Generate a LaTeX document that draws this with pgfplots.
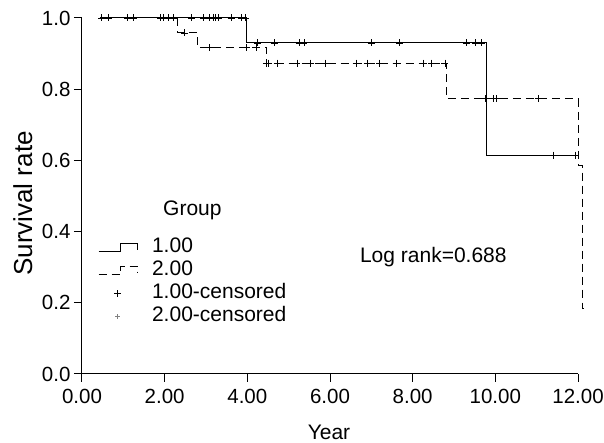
\documentclass[border=0pt]{standalone}
\usepackage{fontspec}
\setmainfont{Liberation Sans}
\usepackage{pgfplots}
\pgfplotsset{compat=1.18}

\newcommand{\bigfont}{\fontsize{21}{25}\selectfont}
\newcommand{\tickfont}{\fontsize{20.5}{24}\selectfont}
\newcommand{\ylabfont}{\fontsize{26}{30}\selectfont}

\pgfplotsset{
    steplegend/.style={legend image code/.code={%
        \draw[##1] (0pt,-4pt) -- (22pt,-4pt) -- (22pt,4pt) -- (39pt,4pt) -- (39pt,-2pt);}},
    censlegend/.style={legend image code/.code={%
        \draw[##1] plot coordinates {(19pt,0pt)};}},
    censlegendsmall/.style={legend image code/.code={%
        \draw[##1, mark size=2.5pt, line width=0.5pt, gray] plot coordinates {(19pt,0pt)};}},
}

\begin{document}
\begin{tikzpicture}
\begin{axis}[
    scale only axis,
    width=496pt, height=356pt,
    xmin=0, xmax=12, ymin=0, ymax=1,
    axis x line*=bottom, axis y line*=left,
    axis line style={line width=1pt},
    clip=false,
    xtick={0,2,...,12}, ytick={0,0.2,...,1.0},
    tick align=outside,
    major tick length=8pt,
    tick style={line width=1pt, black},
    /pgf/number format/assume math mode=true,
    xticklabel style={yshift=-4pt, /pgf/number format/.cd, fixed, fixed zerofill, precision=2},
    yticklabel style={/pgf/number format/.cd, fixed, fixed zerofill, precision=1},
    ticklabel style={font=\tickfont},
    xlabel={Year}, ylabel={Survival rate},
    xlabel style={font=\bigfont, at={(axis description cs:0.498,-0.1854)}, anchor=base},
    ylabel style={font=\ylabfont, at={(axis description cs:-0.1008,0.479)}, anchor=base},
    legend style={at={(rel axis cs:0.032,0.383)}, anchor=north west,
        draw=none, fill=none, inner sep=0pt, row sep=3.5pt, column sep=14pt,
        font=\bigfont, nodes={inner sep=0pt, text height=15pt, text depth=4.5pt}},
    legend cell align=left,
]
% group 1 survival curve
\addplot[const plot, black, line width=1pt, steplegend]
    coordinates {(0.43,1) (3.98,0.93) (9.78,0.615) (11.95,0.615)};
\addlegendentry{1.00}
% group 2 survival curve
\addplot[const plot, black, line width=1pt, dash pattern=on 8pt off 5pt, steplegend]
    coordinates {(0.43,1) (2.31,0.958) (2.80,0.917) (4.46,0.873) (8.82,0.773)
                 (12.0,0.587) (12.1,0.185) (12.15,0.185)};
\addlegendentry{2.00}
% group 1 censored
\addplot[only marks, mark=+, mark size=3.5pt, black, line width=0.8pt, censlegend]
    coordinates {
    (0.48,1) (0.63,1) (1.11,1) (1.25,1) (1.90,1) (1.98,1) (2.10,1) (2.22,1)
    (2.65,1) (2.94,1) (3.08,1) (3.18,1) (3.23,1) (3.30,1) (3.61,1) (3.86,1) (3.95,1)
    (4.24,0.93) (4.65,0.93) (5.25,0.93) (5.37,0.93) (7.0,0.93) (7.69,0.93)
    (9.3,0.93) (9.52,0.93) (9.66,0.93)
    (11.4,0.615) (11.93,0.615)};
\addlegendentry{1.00-censored}
% group 2 censored
\addplot[only marks, mark=+, mark size=3.5pt, black, line width=0.8pt, censlegendsmall]
    coordinates {
    (2.48,0.958)
    (3.08,0.917) (3.98,0.917) (4.22,0.917)
    (4.46,0.873) (4.52,0.873) (4.72,0.873) (5.2,0.873) (5.52,0.873) (5.9,0.873)
    (6.63,0.873) (6.9,0.873) (7.2,0.873) (7.6,0.873) (8.27,0.873) (8.46,0.873) (8.78,0.873)
    (9.76,0.773) (9.95,0.773) (10.02,0.773) (11.04,0.773)};
\addlegendentry{2.00-censored}
\node[font=\bigfont] at (axis cs:2.67,0.46) {Group};
\node[font=\bigfont] at (axis cs:8.5,0.329) {Log rank=0.688};
\coordinate (O) at (rel axis cs:0,0);
\coordinate (T) at (rel axis cs:1,1);
\end{axis}
\pgfresetboundingbox
\path[use as bounding box] ([shift={(-82pt,-69pt)}]O) rectangle ([shift={(26pt,18pt)}]T);
\end{tikzpicture}
\end{document}
